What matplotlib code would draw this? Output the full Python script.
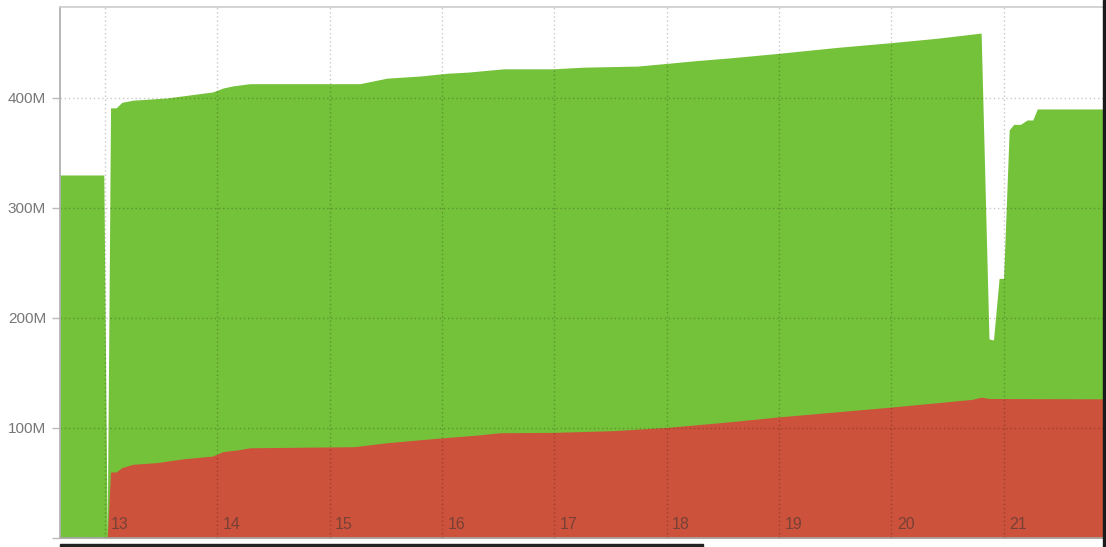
import matplotlib.pyplot as plt
from matplotlib.patches import Rectangle
from matplotlib.ticker import FuncFormatter

plt.rcParams["font.family"] = ["Liberation Sans", "DejaVu Sans"]

# total (top of the green area), in millions, by day of month
dias_total = [12.60, 12.99, 13.02, 13.05, 13.10, 13.15, 13.25, 13.55, 13.70, 13.96,
              14.05, 14.14, 14.29, 15.27, 15.39, 15.51, 15.81, 16.05, 16.23, 16.55,
              16.99, 17.26, 17.74, 18.01, 18.27, 18.57, 18.99, 19.52, 20.00, 20.41,
              20.80, 20.87, 20.91, 20.96, 21.00, 21.05, 21.09, 21.15, 21.21, 21.26,
              21.30, 21.92]
total = [330, 330, 0, 391, 391, 396, 398, 400, 402, 405.5,
         409, 411, 413, 413, 415.5, 418, 420, 422.5, 423.5, 426.5,
         426.5, 428, 429, 431.5, 434, 436.5, 440.5, 446, 450.3, 454.3,
         459, 181, 180, 236, 236, 371, 376, 376, 380, 380,
         390, 390]

# red series, in millions
dias_usado = [12.60, 13.02, 13.05, 13.10, 13.15, 13.25, 13.46, 13.70, 13.96, 14.05,
              14.18, 14.29, 15.22, 15.51, 15.95, 16.32, 16.52, 16.99, 17.53, 18.01,
              18.57, 18.99, 20.00, 20.72, 20.80, 20.87, 21.92]
usado = [0, 0, 60, 60, 64, 67, 68.5, 72, 74.5, 78.5,
         80, 82, 83, 86.6, 90.6, 93.6, 95.7, 96, 97.6, 100.6,
         105.7, 110, 119, 126, 128, 126.8, 126.5]

dias_ticks = [13, 14, 15, 16, 17, 18, 19, 20, 21]
valores_y = [0, 100, 200, 300, 400]

VERDE = "#74c13a"
VERMELHO = "#cc523b"

fig = plt.figure(figsize=(11.06, 5.47), dpi=100)
W, H = 1106, 547
ax = fig.add_axes([60 / W, 9 / H, (1103 - 60) / W, (538 - 7) / H])

ax.fill_between(dias_total, 0, total, color=VERDE, linewidth=0, zorder=1)
ax.fill_between(dias_usado, 0, usado, color=VERMELHO, linewidth=0, zorder=2)

ax.set_xlim(12.60, 21.885)
ax.set_ylim(0, 482.7)

ax.set_xticks(dias_ticks)
ax.set_xticklabels([])
ax.tick_params(axis="x", length=0)
ax.set_yticks(valores_y)
ax.yaxis.set_major_formatter(FuncFormatter(lambda v, p: "" if v == 0 else f"{int(v)}M"))
ax.tick_params(axis="y", length=6, width=1, color="#bbbbbb", labelcolor="#777777",
               labelsize=11, pad=4)

ax.grid(True, color="black", alpha=0.22, linestyle=(0, (1, 2)), linewidth=1)
ax.set_axisbelow(False)
for linha in ax.get_xgridlines() + ax.get_ygridlines():
    linha.set_zorder(3)

for d in dias_ticks:
    ax.text(d + 0.05, 0.025, str(d), transform=ax.get_xaxis_transform(),
            ha="left", va="center", fontsize=11.5, color="#333333", alpha=0.55, zorder=4)

for lado in ["left", "bottom", "top"]:
    ax.spines[lado].set_color("#aaaaaa")
    ax.spines[lado].set_linewidth(1.2)
ax.spines["top"].set_color("#cccccc")
ax.spines["right"].set_visible(False)

# dark edges at the bottom and right of the frame
fig.patches.append(Rectangle((60 / W, 0), (703 - 60) / W, 3.5 / H,
                             transform=fig.transFigure, color="#222222", zorder=5))
fig.patches.append(Rectangle((1103 / W, 0), 3 / W, 1,
                             transform=fig.transFigure, color="#1a1a1a", zorder=5))

plt.savefig("out.png", dpi=100)
plt.close()
